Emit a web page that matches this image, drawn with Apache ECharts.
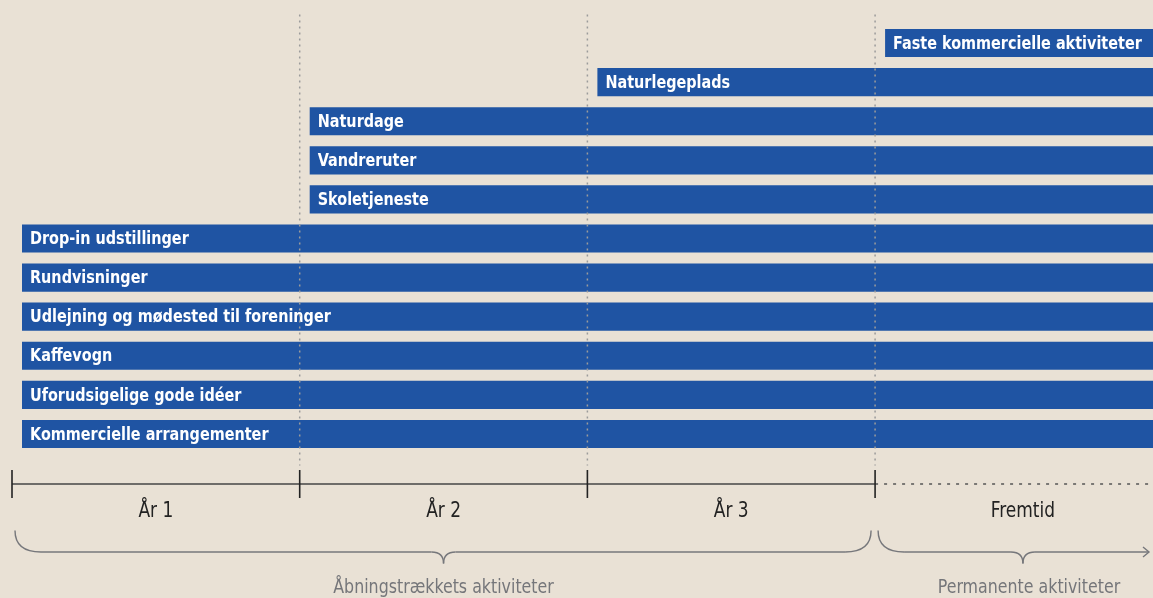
<!DOCTYPE html>
<html>
<head>
<meta charset="utf-8">
<script src="https://cdn.jsdelivr.net/npm/echarts@6/dist/echarts.min.js"></script>
<style>
  html, body { margin: 0; padding: 0; background: #e9e1d5; }
  #chart { width: 1153px; height: 598px; }
</style>
</head>
<body>
<div id="chart"></div>
<script>
// activities, top to bottom, and the year they start in (0 = År 1)
const activities = [
  "Faste kommercielle aktiviteter",
  "Naturlegeplads",
  "Naturdage",
  "Vandreruter",
  "Skoletjeneste",
  "Drop-in udstillinger",
  "Rundvisninger",
  "Udlejning og mødested til foreninger",
  "Kaffevogn",
  "Uforudsigelige gode idéer",
  "Kommercielle arrangementer"
];
const startYear = [3, 2, 1, 1, 1, 0, 0, 0, 0, 0, 0];

// timeline periods
const periods = ["År 1", "År 2", "År 3", "Fremtid"];
const periodStart = [0, 1, 2, 3];
const periodOpen = [false, false, false, true];

// brace groups under the timeline
const groups = ["Åbningstrækkets aktiviteter", "Permanente aktiviteter"];
const groupFrom = [0, 3];
const groupTo = [3, 4];
const groupArrow = [false, true];

const BLUE = "#1f54a3";
const FONT = '"DejaVu Sans Condensed", "Liberation Sans Narrow", "Roboto", sans-serif';
// the future period runs off the right edge of the picture
const X_MAX = 3.966;

const chart = echarts.init(document.getElementById("chart"));

function renderBar(params, api) {
  const idx = api.value(1);
  const p = api.coord([api.value(0), idx]);
  const band = api.size([0, 1])[1];
  const cs = params.coordSys;
  const x0 = p[0] + 10;
  const x1 = cs.x + cs.width;
  const h = band * 0.72;
  return {
    type: "group",
    children: [
      { type: "rect", shape: { x: x0, y: p[1] - h / 2, width: x1 - x0, height: h }, style: { fill: BLUE } },
      {
        type: "text", x: x0 + 8, y: p[1] + 1, scaleX: 0.89,
        style: { text: activities[idx], fill: "#fff", fontFamily: FONT, fontWeight: "bold", fontSize: 18, verticalAlign: "middle" }
      }
    ]
  };
}

function renderGuide(params, api) {
  const x = api.coord([api.value(0), 0])[0];
  const cs = params.coordSys;
  return {
    type: "line",
    shape: { x1: x, y1: cs.y - 9, x2: x, y2: cs.y + cs.height + 12 },
    style: { stroke: "#9b9b9b", lineWidth: 1.5, lineDash: [2, 4] }
  };
}

function renderPeriod(params, api) {
  const i = params.dataIndex;
  const cs = params.coordSys;
  const xs = api.coord([api.value(0), 0])[0];
  const xe = api.coord([api.value(0) + 1, 0])[0];
  const xm = api.coord([api.value(0) + 0.5, 0])[0];
  const ay = cs.y + cs.height + 30.5;
  return {
    type: "group",
    children: [
      {
        type: "line", shape: { x1: xs, y1: ay, x2: xe, y2: ay },
        style: periodOpen[i]
          ? { stroke: "#555", lineWidth: 1.3, lineDash: [3, 6] }
          : { stroke: "#444", lineWidth: 1.3 }
      },
      {
        type: "line", shape: { x1: xs, y1: ay - 14, x2: xs, y2: ay + 14 },
        style: { stroke: "#222", lineWidth: 1.6 }
      },
      {
        type: "text", x: xm + (periodOpen[i] ? 4 : 0), y: ay + 28, scaleX: 0.9,
        style: { text: periods[i], fill: "#222", fontFamily: FONT, fontSize: 21, align: "center", verticalAlign: "middle" }
      }
    ]
  };
}

function renderBrace(params, api) {
  const i = params.dataIndex;
  const cs = params.coordSys;
  const a = api.coord([api.value(0), 0])[0] + 3;
  const b = Math.min(api.coord([api.value(1), 0])[0], api.getWidth()) - 4;
  const m = api.coord([(api.value(0) + api.value(1)) / 2, 0])[0] + (groupArrow[i] ? 4 : 0);
  const base = cs.y + cs.height;
  const t = base + 77, h = base + 98.5, d = base + 110;
  const r = 26, r2 = 12;
  const st = { stroke: "#76777b", lineWidth: 1.4, fill: null };
  const kids = [
    { type: "bezierCurve", shape: { x1: a, y1: t, x2: a + r, y2: h, cpx1: a, cpy1: h }, style: st },
    { type: "line", shape: { x1: a + r, y1: h, x2: m - r2, y2: h }, style: st },
    { type: "bezierCurve", shape: { x1: m - r2, y1: h, x2: m, y2: d, cpx1: m, cpy1: h }, style: st },
    { type: "bezierCurve", shape: { x1: m, y1: d, x2: m + r2, y2: h, cpx1: m, cpy1: h }, style: st }
  ];
  if (groupArrow[i]) {
    kids.push({ type: "line", shape: { x1: m + r2, y1: h, x2: b, y2: h }, style: st });
    kids.push({ type: "polyline", shape: { points: [[b - 6, h - 5], [b, h], [b - 6, h + 5]] }, style: st });
  } else {
    kids.push({ type: "line", shape: { x1: m + r2, y1: h, x2: b - r, y2: h }, style: st });
    kids.push({ type: "bezierCurve", shape: { x1: b - r, y1: h, x2: b, y2: t, cpx1: b, cpy1: h }, style: st });
  }
  kids.push({
    type: "text", x: m + (groupArrow[i] ? 6 : 0), y: base + 124, scaleX: 0.88,
    style: { text: groups[i], fill: "#75767a", fontFamily: FONT, fontSize: 20, align: "center", verticalAlign: "top" }
  });
  return { type: "group", children: kids };
}

chart.setOption({
  backgroundColor: "#e9e1d5",
  animation: false,
  grid: { left: 12, right: 0, top: 23.5, height: 430 },
  xAxis: { type: "value", min: 0, max: X_MAX, show: false },
  yAxis: { type: "category", data: activities, inverse: true, show: false },
  series: [
    {
      type: "custom", z: 2, renderItem: renderBar,
      encode: { x: 0, y: 1 },
      data: startYear.map((s, i) => [s, i])
    },
    {
      type: "custom", z: 3, renderItem: renderGuide,
      encode: { x: 0 },
      data: periodStart.filter((s) => s > 0).map((s) => [s])
    },
    {
      type: "custom", z: 3, renderItem: renderPeriod,
      encode: { x: 0 },
      data: periodStart.map((s) => [s])
    },
    {
      type: "custom", z: 3, renderItem: renderBrace,
      encode: { x: [0, 1] },
      data: groupFrom.map((f, i) => [f, groupTo[i]])
    }
  ]
});
</script>
</body>
</html>
